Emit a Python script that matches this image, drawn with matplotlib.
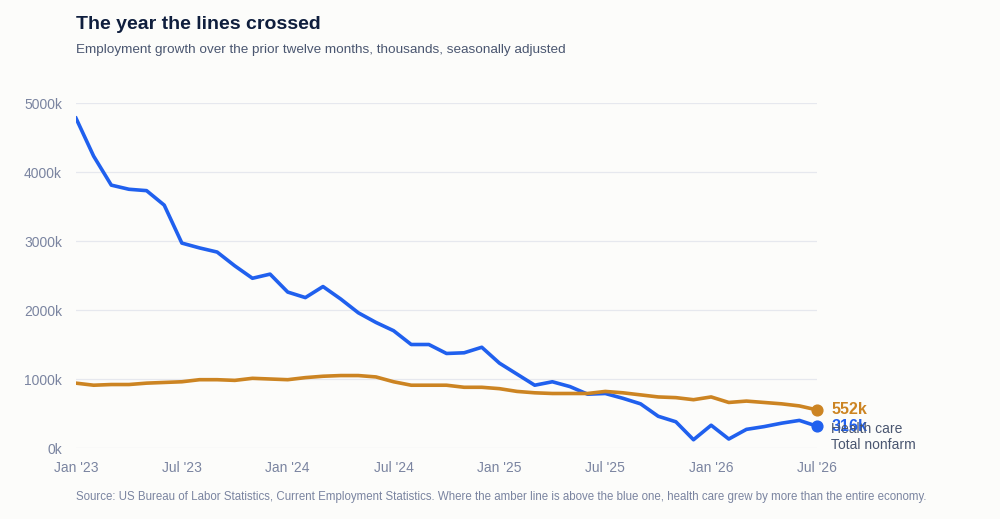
import matplotlib.pyplot as plt

BG_COLOR = "#fcfcfa"
TITLE_COLOR = "#0f1e3d"
SUB_COLOR = "#4a5670"
TICK_COLOR = "#7a84a0"
GRID_COLOR = "#e6e8ee"
BLUE = "#2060ee"
AMBER = "#cc8422"

months = list(range(43))  # Jan 2023 .. Jul 2026
tick_pos = [0, 6, 12, 18, 24, 30, 36, 42]
tick_labels = ["Jan '23", "Jul '23", "Jan '24", "Jul '24", "Jan '25", "Jul '25", "Jan '26", "Jul '26"]

total_nonfarm = [4780, 4230, 3810, 3750, 3730, 3520, 2970, 2900, 2840, 2640, 2460, 2520,
                 2260, 2180, 2340, 2160, 1960, 1820, 1700, 1500, 1500, 1370, 1380, 1460,
                 1230, 1070, 910, 960, 890, 780, 790, 720, 640, 460, 380, 120,
                 330, 130, 270, 310, 360, 400, 316]
health_care = [940, 910, 920, 920, 940, 950, 960, 990, 990, 980, 1010, 1000,
               990, 1020, 1040, 1050, 1050, 1030, 960, 910, 910, 910, 880, 880,
               860, 820, 800, 790, 790, 790, 820, 800, 770, 740, 730, 700,
               740, 660, 680, 660, 640, 610, 552]

plt.rcParams["font.family"] = ["Liberation Sans", "DejaVu Sans"]

fig = plt.figure(figsize=(10, 5.19), dpi=100)
fig.patch.set_facecolor(BG_COLOR)
ax = fig.add_axes([0.076, 0.1368, 0.741, 0.6647])
ax.set_facecolor(BG_COLOR)

ax.plot(months, total_nonfarm, color=BLUE, linewidth=2.6, zorder=3, solid_joinstyle="round")
ax.plot(months, health_care, color=AMBER, linewidth=2.6, zorder=3, solid_joinstyle="round")
ax.scatter([months[-1]], [health_care[-1]], s=60, color=AMBER, zorder=4, clip_on=False)
ax.scatter([months[-1]], [total_nonfarm[-1]], s=60, color=BLUE, zorder=4, clip_on=False)

ax.set_xlim(0, 42)
ax.set_ylim(0, 5000)
ax.set_yticks([0, 1000, 2000, 3000, 4000, 5000])
ax.set_yticklabels([f"{v}k" for v in [0, 1000, 2000, 3000, 4000, 5000]])
ax.set_xticks(tick_pos)
ax.set_xticklabels(tick_labels)
ax.tick_params(axis="both", length=0, labelsize=10, colors=TICK_COLOR)
ax.tick_params(axis="y", pad=10)
ax.tick_params(axis="x", pad=9)
ax.grid(axis="y", color=GRID_COLOR, linewidth=0.9)
for s in ax.spines.values():
    s.set_visible(False)

# end labels (they overlap, as in the original)
ax.text(42.8, health_care[-1], f"{health_care[-1]}k", color=AMBER, fontsize=11.5,
        fontweight="bold", va="center", clip_on=False)
ax.text(42.8, total_nonfarm[-1], f"{total_nonfarm[-1]}k", color=BLUE, fontsize=11.5,
        fontweight="bold", va="center", clip_on=False)
ax.text(42.8, 270, "Health care", color=SUB_COLOR, fontsize=10, va="center", clip_on=False)
ax.text(42.8, 40, "Total nonfarm", color=SUB_COLOR, fontsize=10, va="center", clip_on=False)

fig.text(0.076, 0.952, "The year the lines crossed", fontsize=14, fontweight="bold",
         color=TITLE_COLOR, va="center")
fig.text(0.076, 0.903, "Employment growth over the prior twelve months, thousands, seasonally adjusted",
         fontsize=9.7, color=SUB_COLOR, va="center")
fig.text(0.076, 0.043, "Source: US Bureau of Labor Statistics, Current Employment Statistics. "
         "Where the amber line is above the blue one, health care grew by more than the entire economy.",
         fontsize=8.3, color=TICK_COLOR, va="center")

fig.savefig("out.png", dpi=100, facecolor=fig.get_facecolor())
